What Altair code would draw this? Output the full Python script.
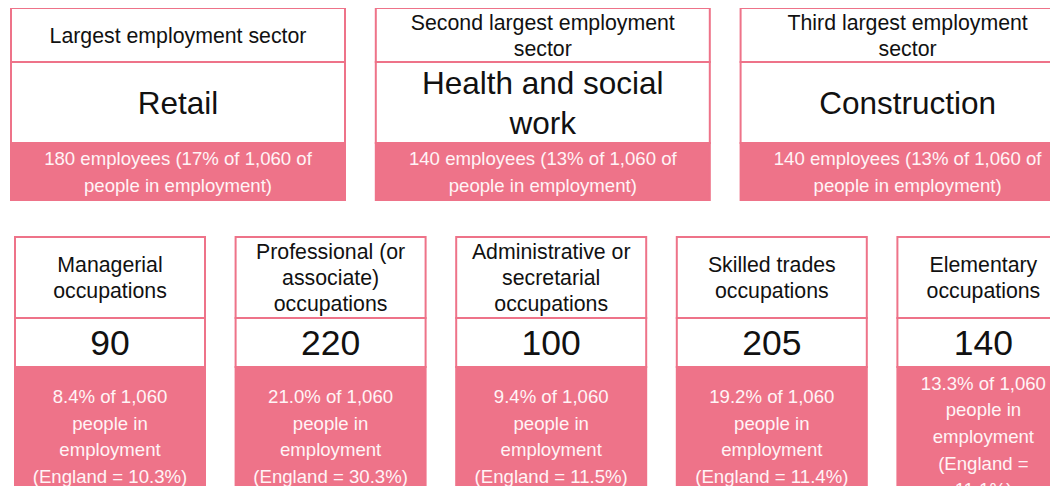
import altair as alt
import pandas as pd

# ---------------- data ----------------
sector_labels = ["Largest employment sector",
                 "Second largest employment\nsector",
                 "Third largest employment\nsector"]
sectors = ["Retail", "Health and social\nwork", "Construction"]
sector_employees = [180, 140, 140]
sector_pct = [17, 13, 13]
total_employed = "1,060"

occupations = ["Managerial\noccupations",
               "Professional (or\nassociate)\noccupations",
               "Administrative or\nsecretarial\noccupations",
               "Skilled trades\noccupations",
               "Elementary\noccupations"]
occ_counts = [90, 220, 100, 205, 140]
occ_pct = [8.4, 21.0, 9.4, 19.2, 13.3]
occ_england = [10.3, 30.3, 11.5, 11.4, 11.1]

# ---------------- style / layout ----------------
PINK = "#EE7389"
BAND_TEXT = "#FFF4F6"
FONT = "Liberation Sans"

HEAD_FS, HEAD_LH = 21.3, 26
TOPMAIN_FS, TOPMAIN_LH = 31.5, 40
BOTMAIN_FS = 35.5
BAND_FS, BAND_LH = 18.6, 26.7

TOP_X0, TOP_STEP, TOP_W = 11, 364.8, 334
TOP_Y = [8, 62, 143, 200]
BOT_X0, BOT_STEP = 15, 220.6
BOT_WIDTHS = [190, 190, 190, 190, 172]
BOT_Y = [237, 318, 367, 510]


def first_line_y(center, text, lh):
    n = text.count("\n") + 1
    return center - (n - 1) * lh / 2


boxes, bands, heads, mains_top, mains_bot, band_texts = [], [], [], [], [], []

for i, lab in enumerate(sector_labels):
    x0 = TOP_X0 + i * TOP_STEP
    x1 = x0 + TOP_W
    xc = (x0 + x1) / 2
    boxes.append(dict(x0=x0, x1=x1, y0=TOP_Y[0], y1=TOP_Y[1]))
    boxes.append(dict(x0=x0, x1=x1, y0=TOP_Y[1], y1=TOP_Y[2]))
    bands.append(dict(x0=x0, x1=x1, y0=TOP_Y[2], y1=TOP_Y[3]))
    heads.append(dict(x=xc, y=first_line_y((TOP_Y[0] + TOP_Y[1]) / 2 + 1.5, lab, HEAD_LH), t=lab))
    mains_top.append(dict(x=xc, y=first_line_y((TOP_Y[1] + TOP_Y[2]) / 2 + 2.5, sectors[i], TOPMAIN_LH),
                          t=sectors[i]))
    bt = f"{sector_employees[i]} employees ({sector_pct[i]}% of {total_employed} of\npeople in employment)"
    band_texts.append(dict(x=xc, y=first_line_y((TOP_Y[2] + TOP_Y[3]) / 2 + 1, bt, BAND_LH), t=bt))

for j, lab in enumerate(occupations):
    x0 = BOT_X0 + j * BOT_STEP
    x1 = x0 + BOT_WIDTHS[j]
    xc = (x0 + x1) / 2
    boxes.append(dict(x0=x0, x1=x1, y0=BOT_Y[0], y1=BOT_Y[1]))
    boxes.append(dict(x0=x0, x1=x1, y0=BOT_Y[1], y1=BOT_Y[2]))
    bands.append(dict(x0=x0, x1=x1, y0=BOT_Y[2], y1=BOT_Y[3]))
    heads.append(dict(x=xc, y=first_line_y((BOT_Y[0] + BOT_Y[1]) / 2 + 1, lab, HEAD_LH), t=lab))
    mains_bot.append(dict(x=xc, y=(BOT_Y[1] + BOT_Y[2]) / 2 + 1.5, t=str(occ_counts[j])))
    eng = f"(England = {occ_england[j]}%)"
    if j == 4:
        eng = f"(England =\n{occ_england[j]}%)"
    bt = f"{occ_pct[j]}% of {total_employed}\npeople in\nemployment\n{eng}"
    band_texts.append(dict(x=xc, y=first_line_y(437, bt, BAND_LH), t=bt))

W, H = 1042, 478
xs = alt.Scale(domain=[8, 8 + W], range=[0, W], nice=False, zero=False)
ys = alt.Scale(domain=[8, 8 + H], range=[0, H], nice=False, zero=False)


def rect_layer(rows, fill):
    return alt.Chart(pd.DataFrame(rows)).mark_rect(
        fill=fill, stroke=PINK, strokeWidth=2, clip=True
    ).encode(
        x=alt.X("x0:Q", scale=xs, axis=None), x2="x1:Q",
        y=alt.Y("y0:Q", scale=ys, axis=None), y2="y1:Q",
    )


def text_layer(rows, size, lh, color):
    return alt.Chart(pd.DataFrame(rows)).mark_text(
        font=FONT, fontSize=size, lineHeight=lh, lineBreak="\n",
        color=color, align="center", baseline="middle", clip=True
    ).encode(
        x=alt.X("x:Q", scale=xs, axis=None),
        y=alt.Y("y:Q", scale=ys, axis=None),
        text="t:N",
    )


chart = alt.layer(
    rect_layer(boxes, "white"),
    rect_layer(bands, PINK),
    text_layer(heads, HEAD_FS, HEAD_LH, "#111111"),
    text_layer(mains_top, TOPMAIN_FS, TOPMAIN_LH, "#111111"),
    text_layer(mains_bot, BOTMAIN_FS, 40, "#111111"),
    text_layer(band_texts, BAND_FS, BAND_LH, BAND_TEXT),
).properties(
    width=W, height=H, padding=0, autosize=alt.AutoSizeParams(type="none")
).configure_view(stroke=None)

chart.save("out.html", embed_options={"renderer": "svg", "actions": False})
